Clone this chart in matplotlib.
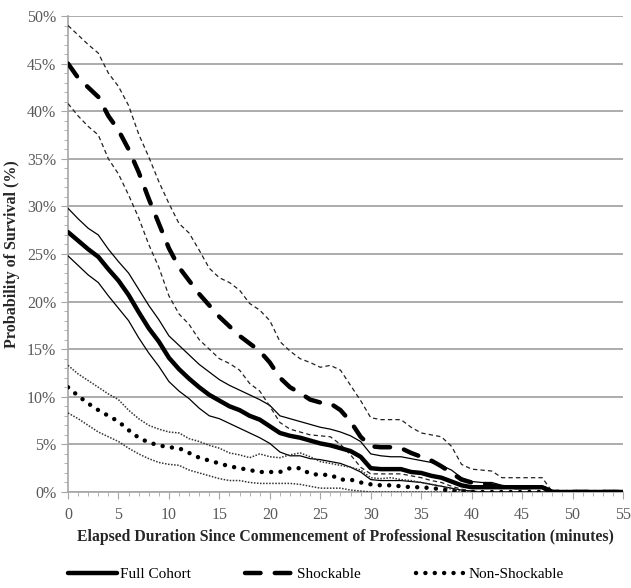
import matplotlib
matplotlib.use("Agg")
import matplotlib.pyplot as plt
import numpy as np
from matplotlib.ticker import MultipleLocator, FuncFormatter

minutes = list(range(0, 56))

# full cohort: estimate, upper and lower bounds (%)
full_mid = [27.3, 26.4, 25.5, 24.7, 23.4, 22.2, 20.7, 18.9, 17.2, 15.8, 14.1, 12.9, 11.9, 11.0, 10.2, 9.6,
            9.0, 8.6, 8.0, 7.6, 6.9, 6.2, 5.9, 5.7, 5.4, 5.1, 4.9, 4.6, 4.3, 3.7, 2.5, 2.4, 2.4, 2.4, 2.1, 2.0,
            1.7, 1.5, 1.1, 0.7, 0.5, 0.5, 0.5, 0.5, 0.5, 0.5, 0.5, 0.5, 0, 0, 0, 0, 0, 0, 0, 0]
full_hi = [29.8, 28.7, 27.7, 27.0, 25.5, 24.2, 23.0, 21.3, 19.6, 18.1, 16.4, 15.4, 14.4, 13.4, 12.6, 11.8,
           11.2, 10.7, 10.2, 9.7, 9.1, 8.0, 7.7, 7.4, 7.1, 6.8, 6.6, 6.3, 5.9, 5.3, 4.0, 3.8, 3.7, 3.7, 3.5, 3.3,
           3.1, 2.8, 2.3, 1.5, 1.1, 1.0, 1.0, 0.7, 0.6, 0.6, 0.6, 0.6, 0, 0, 0, 0, 0, 0, 0, 0]
full_lo = [24.8, 23.8, 22.8, 22.0, 20.6, 19.3, 18.0, 16.2, 14.6, 13.2, 11.6, 10.6, 9.8, 8.8, 8.0, 7.7,
           7.2, 6.7, 6.2, 5.7, 5.1, 4.2, 3.8, 3.8, 3.5, 3.4, 3.2, 3.0, 2.6, 2.1, 1.3, 1.2, 1.2, 1.2, 1.1, 1.0,
           0.8, 0.6, 0.4, 0.2, 0.1, 0, 0, 0, 0, 0, 0, 0, 0, 0, 0, 0, 0, 0, 0, 0]

# shockable rhythm
shock_mid = [45.0, 43.5, 42.5, 41.5, 39.5, 38.0, 36.0, 33.6, 30.8, 28.2, 25.6, 23.6, 22.2, 20.8, 19.6, 18.4,
             17.4, 16.4, 15.6, 14.8, 13.6, 12.0, 11.0, 10.4, 9.7, 9.4, 9.3, 8.6, 7.4, 5.8, 4.8, 4.7, 4.7, 4.6, 4.1, 3.7,
             3.3, 2.7, 2.0, 1.3, 1.0, 0.9, 0.7, 0.5, 0.5, 0.5, 0.5, 0.5, 0, 0, 0, 0, 0, 0, 0, 0]
shock_hi = [49.0, 48.0, 47.0, 46.1, 44.0, 42.6, 40.6, 37.6, 35.2, 32.6, 30.3, 28.2, 27.2, 25.4, 23.5, 22.5,
            22.0, 21.2, 19.8, 19.1, 18.0, 15.8, 14.8, 14.0, 13.6, 13.1, 13.3, 12.8, 11.2, 9.6, 7.8, 7.6, 7.6, 7.6, 6.8, 6.2,
            6.0, 5.8, 4.8, 2.9, 2.4, 2.3, 2.2, 1.5, 1.5, 1.5, 1.5, 1.5, 0, 0, 0, 0, 0, 0, 0, 0]
shock_lo = [40.8, 39.5, 38.4, 37.5, 35.0, 33.4, 31.2, 28.8, 26.0, 23.6, 20.6, 18.7, 17.6, 16.0, 15.0, 14.0,
            13.5, 12.8, 11.4, 10.6, 9.0, 7.3, 6.6, 6.3, 6.0, 5.9, 5.8, 5.0, 3.9, 2.6, 1.9, 1.9, 1.9, 1.9, 1.7, 1.5,
            1.2, 1.0, 0.6, 0.3, 0.1, 0, 0, 0, 0, 0, 0, 0, 0, 0, 0, 0, 0, 0, 0, 0]

# non-shockable rhythm
nons_mid = [11.0, 10.1, 9.3, 8.6, 8.0, 7.4, 6.5, 5.7, 5.2, 4.9, 4.7, 4.6, 4.1, 3.6, 3.3, 3.0,
            2.7, 2.5, 2.3, 2.1, 2.1, 2.1, 2.5, 2.5, 1.9, 1.8, 1.8, 1.3, 1.3, 1.0, 0.8, 0.7, 0.7, 0.6, 0.5, 0.5,
            0.4, 0.3, 0.1, 0, 0, 0, 0, 0, 0, 0, 0, 0, 0, 0, 0, 0, 0, 0, 0, 0]
nons_hi = [13.3, 12.4, 11.7, 11.0, 10.3, 9.7, 8.6, 7.7, 7.0, 6.6, 6.3, 6.2, 5.6, 5.3, 4.9, 4.6,
           4.1, 3.9, 3.6, 4.0, 3.7, 3.6, 3.9, 4.1, 3.7, 3.2, 3.0, 2.8, 2.6, 2.3, 1.5, 1.4, 1.5, 1.3, 1.2, 1.0,
           0.8, 0.6, 0.3, 0.1, 0, 0, 0, 0, 0, 0, 0, 0, 0, 0, 0, 0, 0, 0, 0, 0]
nons_lo = [8.3, 7.7, 7.0, 6.3, 5.8, 5.3, 4.6, 4.0, 3.5, 3.1, 2.9, 2.8, 2.3, 2.0, 1.7, 1.4,
           1.2, 1.2, 1.0, 0.9, 0.9, 0.9, 0.9, 0.8, 0.6, 0.4, 0.4, 0.4, 0.2, 0.1, 0, 0, 0, 0, 0, 0,
           0, 0, 0, 0, 0, 0, 0, 0, 0, 0, 0, 0, 0, 0, 0, 0, 0, 0, 0, 0]

plt.rcParams['font.family'] = 'Liberation Serif'

fig = plt.figure(figsize=(6.31, 5.88), dpi=100)
ax = fig.add_axes([0.1078, 0.1633, 0.8795, 0.8095])

k = 'black'
# full cohort
l1, = ax.plot(minutes, full_mid, color=k, lw=3.2, solid_capstyle='round', zorder=5)
ax.plot(minutes, full_hi, color=k, lw=0.9, zorder=4)
ax.plot(minutes, full_lo, color=k, lw=0.9, zorder=4)
# shockable
l2, = ax.plot(minutes, shock_mid, color=k, lw=3.2, dashes=(3.5, 3.2), dash_capstyle='round', zorder=5)
ax.plot(minutes, shock_hi, color='#222222', lw=0.9, dashes=(3.5, 2.5), zorder=4)
ax.plot(minutes, shock_lo, color='#222222', lw=0.9, dashes=(3.5, 2.5), zorder=4)
# non-shockable
l3, = ax.plot(minutes, nons_mid, color=k, lw=3.2, dashes=(0.01, 2.1), dash_capstyle='round', zorder=5)
ax.plot(minutes, nons_hi, color='#333333', lw=1.1, dashes=(1, 1), zorder=4)
ax.plot(minutes, nons_lo, color='#333333', lw=1.1, dashes=(1, 1), zorder=4)

ax.set_xlim(0, 55)
ax.set_ylim(0, 50)
ax.xaxis.set_major_locator(MultipleLocator(5))
ax.xaxis.set_minor_locator(MultipleLocator(1))
ax.yaxis.set_major_locator(MultipleLocator(5))
ax.yaxis.set_minor_locator(MultipleLocator(1))
ax.yaxis.set_major_formatter(FuncFormatter(lambda v, p: '%d%%' % v))
ax.grid(axis='y', which='major', color='#a6a6a6', lw=1.3)
ax.set_axisbelow(True)
for s in ['top', 'right']:
    ax.spines[s].set_visible(False)
for s in ['left', 'bottom']:
    ax.spines[s].set_color('#a6a6a6')
    ax.spines[s].set_linewidth(1.2)
ax.tick_params(which='both', colors='#a6a6a6', labelcolor='#595959', labelsize=11.5)
ax.tick_params(which='major', length=5)
ax.tick_params(which='minor', length=3)
ax.tick_params(axis='x', pad=6)

ax.set_xlabel('Elapsed Duration Since Commencement of Professional Resuscitation (minutes)',
              fontsize=11.3, fontweight='bold', color='#262626', labelpad=4)
ax.set_ylabel('Probability of Survival (%)', fontsize=11.5, fontweight='bold', color='#262626', labelpad=5)

fig.legend([l1, l2, l3], ['Full Cohort', 'Shockable', 'Non-Shockable'], loc='lower center',
           bbox_to_anchor=(0.5, -0.012), ncol=3, frameon=False, fontsize=11, handlelength=3.2,
           columnspacing=3.6, handletextpad=0.2)

fig.savefig('out.png', dpi=100, facecolor='white')
